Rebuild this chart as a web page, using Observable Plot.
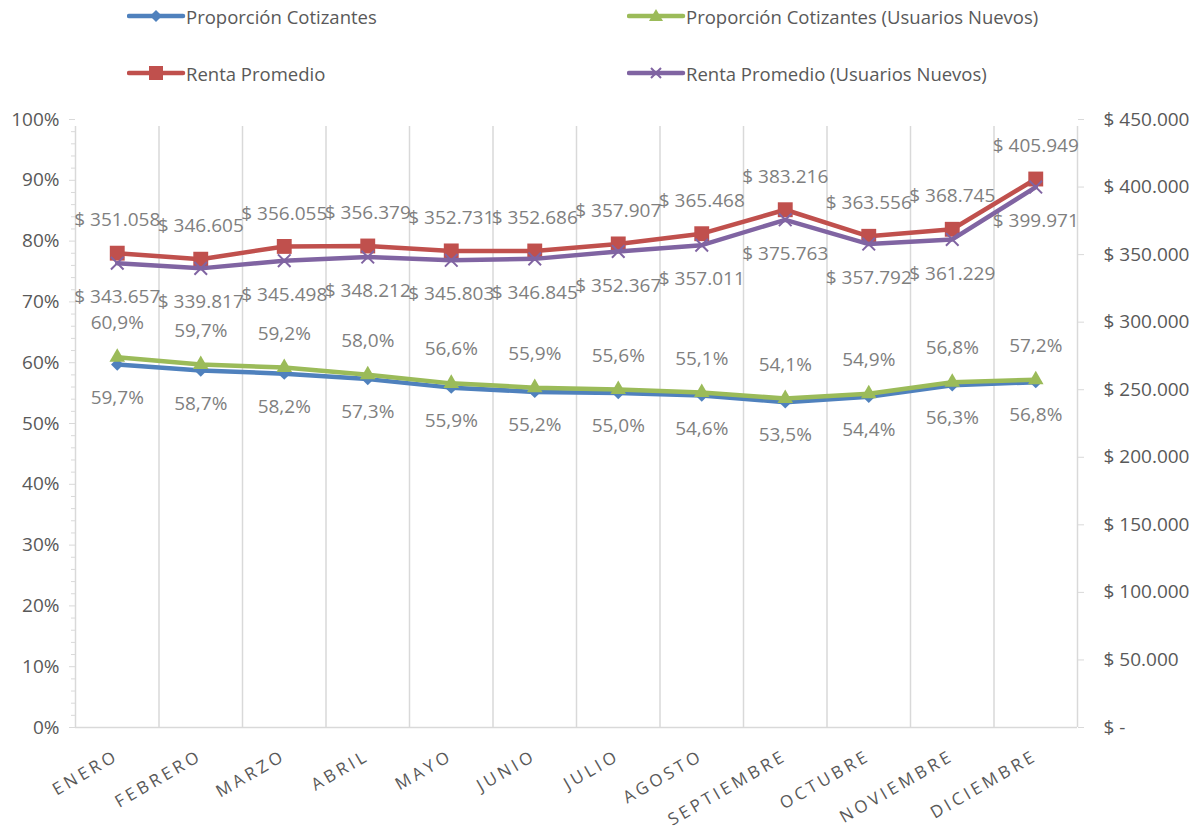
<!DOCTYPE html>
<html><head><meta charset="utf-8">
<script src="https://cdn.jsdelivr.net/npm/d3@7"></script>
<script src="https://cdn.jsdelivr.net/npm/@observablehq/plot@0.6"></script>
<style>
body{margin:0;background:#fff;font-family:"Open Sans",sans-serif;}
#legend{position:relative;width:1196px;height:100px;}
.item{position:absolute;display:flex;align-items:center;height:24px;font-size:18.5px;color:#595959;white-space:nowrap;}
.item svg{display:block}
</style></head><body>
<div id="legend"></div><div id="chart"></div>
<script>
const months = ["ENERO","FEBRERO","MARZO","ABRIL","MAYO","JUNIO","JULIO","AGOSTO","SEPTIEMBRE","OCTUBRE","NOVIEMBRE","DICIEMBRE"];
const propCot = [59.7, 58.7, 58.2, 57.3, 55.9, 55.2, 55.0, 54.6, 53.5, 54.4, 56.3, 56.8];
const propCotNuevos = [60.9, 59.7, 59.2, 58.0, 56.6, 55.9, 55.6, 55.1, 54.1, 54.9, 56.8, 57.2];
const renta = [351058, 346605, 356055, 356379, 352731, 352686, 357907, 365468, 383216, 363556, 368745, 405949];
const rentaNuevos = [343657, 339817, 345498, 348212, 345803, 346845, 352367, 357011, 375763, 357792, 361229, 399971];
const pctTicks = [0, 10, 20, 30, 40, 50, 60, 70, 80, 90, 100];
const rentaTicks = [0, 50000, 100000, 150000, 200000, 250000, 300000, 350000, 400000, 450000];
const rentaMax = 450000;
const seriesNames = ["Proporción Cotizantes", "Proporción Cotizantes (Usuarios Nuevos)", "Renta Promedio", "Renta Promedio (Usuarios Nuevos)"];
const seriesColors = ["#4f81bd", "#9bbb59", "#c0504d", "#8064a2"];

const fmtMoney = v => v === 0 ? "$ -" : "$ " + d3.format(",")(v).replace(/,/g, ".");
const fmtPct = v => v.toFixed(1).replace(".", ",") + "%";

// legend
const legendPos = [[127, 4], [627, 4], [127, 61], [627, 61]];
const markerSvg = [
  c => `<polygon points="29,6 35,12 29,18 23,12" fill="${c}"/>`,
  c => `<polygon points="29,5 36,17 22,17" fill="${c}"/>`,
  c => `<rect x="22" y="5" width="14" height="14" fill="${c}"/>`,
  c => `<path d="M24,7L34,17M34,7L24,17" stroke="${c}" stroke-width="2"/>`
];
const legend = document.getElementById("legend");
seriesNames.forEach((name, i) => {
  const div = document.createElement("div");
  div.className = "item";
  div.style.left = legendPos[i][0] + "px";
  div.style.top = legendPos[i][1] + "px";
  div.innerHTML = `<svg width="59" height="24"><line x1="2" y1="12" x2="56" y2="12" stroke="${seriesColors[i]}" stroke-width="4.5" stroke-linecap="round"/>${markerSvg[i](seriesColors[i])}</svg><span>${name}</span>`;
  legend.appendChild(div);
});

const idx = d3.range(months.length);
const bounds = d3.range(-0.5, months.length, 1);
const minorTicks = d3.range(0, 101, 2).filter(v => v % 10 !== 0).map(v => v / 100);
const grid = "#d9d9d9";
const txt = "#595959";
const lbl = "#7f7f7f";

const plot = Plot.plot({
  width: 1196,
  height: 736,
  marginLeft: 75,
  marginRight: 119,
  marginTop: 19,
  marginBottom: 109,
  style: {fontFamily: "Open Sans, sans-serif", background: "white"},
  x: {type: "linear", domain: [-0.5, months.length - 0.5]},
  y: {domain: [0, 1]},
  marks: [
    Plot.ruleX(bounds, {y1: 0, y2: 1, stroke: grid, strokeWidth: 1.5, insetBottom: -7}),
    Plot.ruleY([0], {stroke: grid, strokeWidth: 1.5}),
    Plot.axisY(minorTicks, {anchor: "left", tickSize: 4, tickFormat: () => "", stroke: grid, label: null}),
    Plot.axisY(pctTicks.map(v => v / 100), {anchor: "left", tickSize: 6, tickPadding: 10, stroke: grid, fill: txt, fontSize: 19, tickFormat: d => Math.round(d * 100) + "%", label: null}),
    Plot.axisY(rentaTicks.map(v => v / rentaMax), {anchor: "right", tickSize: 6, tickPadding: 20, stroke: grid, fill: txt, fontSize: 19, textAnchor: "start", tickFormat: d => fmtMoney(Math.round(d * rentaMax)), label: null}),
    Plot.axisX(idx, {anchor: "bottom", tickSize: 0, tickPadding: 27, tickRotate: -30, fill: txt, fontSize: 17, tickFormat: i => months[i], label: null}),

    Plot.line(idx, {x: i => i, y: i => propCot[i] / 100, stroke: seriesColors[0], strokeWidth: 4.5}),
    Plot.dot(idx, {x: i => i, y: i => propCot[i] / 100, symbol: "diamond2", fill: seriesColors[0], stroke: "none", r: 5.6}),
    Plot.line(idx, {x: i => i, y: i => propCotNuevos[i] / 100, stroke: seriesColors[1], strokeWidth: 4.5}),
    Plot.dot(idx, {x: i => i, y: i => propCotNuevos[i] / 100, symbol: "triangle", fill: seriesColors[1], stroke: "none", r: 5.8}),
    Plot.line(idx, {x: i => i, y: i => renta[i] / rentaMax, stroke: seriesColors[2], strokeWidth: 4.5}),
    Plot.dot(idx, {x: i => i, y: i => renta[i] / rentaMax, symbol: "square", fill: seriesColors[2], stroke: "none", r: 8.4}),
    Plot.line(idx, {x: i => i, y: i => rentaNuevos[i] / rentaMax, stroke: seriesColors[3], strokeWidth: 4.5}),
    Plot.dot(idx, {x: i => i, y: i => rentaNuevos[i] / rentaMax, symbol: "times", stroke: seriesColors[3], fill: "none", strokeWidth: 2, r: 5.8}),

    Plot.text(idx, {x: i => i, y: i => propCot[i] / 100, text: i => fmtPct(propCot[i]), dy: 33, fill: lbl, fontSize: 19}),
    Plot.text(idx, {x: i => i, y: i => propCotNuevos[i] / 100, text: i => fmtPct(propCotNuevos[i]), dy: -34, fill: lbl, fontSize: 19}),
    Plot.text(idx, {x: i => i, y: i => renta[i] / rentaMax, text: i => fmtMoney(renta[i]), dy: -33, fill: lbl, fontSize: 19}),
    Plot.text(idx, {x: i => i, y: i => rentaNuevos[i] / rentaMax, text: i => fmtMoney(rentaNuevos[i]), dy: 34, fill: lbl, fontSize: 19})
  ]
});
d3.select(plot).selectAll('g[aria-label="x-axis tick label"] text').style("letter-spacing", "3.5px");
document.getElementById("chart").appendChild(plot);
</script>
</body></html>
